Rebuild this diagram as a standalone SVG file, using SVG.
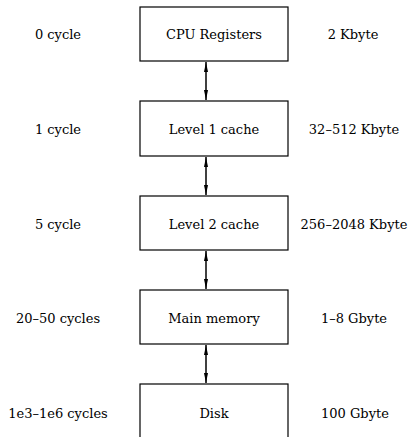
<svg xmlns="http://www.w3.org/2000/svg" width="411" height="437" viewBox="0 0 411 437">
<defs>
<style>
.box{fill:#fff;stroke:#000;stroke-width:1.2}
.t{font-family:"DejaVu Serif","Liberation Serif",serif;font-size:13px;fill:#000;text-anchor:middle}
.c{stroke:#000;stroke-width:1.5;fill:none}
</style>
<marker id="ah" viewBox="0 0 10 4" refX="10" refY="2" markerWidth="10" markerHeight="4" markerUnits="userSpaceOnUse" orient="auto-start-reverse">
<path d="M0,0 L10,2 L0,4 Z" fill="#000"/>
</marker>
</defs>
<rect width="411" height="437" fill="#fff"/>
<g id="connectors">
<line class="c" x1="206" y1="62" x2="206" y2="100" marker-start="url(#ah)" marker-end="url(#ah)"/>
<line class="c" x1="206" y1="157" x2="206" y2="195" marker-start="url(#ah)" marker-end="url(#ah)"/>
<line class="c" x1="206" y1="251" x2="206" y2="289" marker-start="url(#ah)" marker-end="url(#ah)"/>
<line class="c" x1="206" y1="345" x2="206" y2="383" marker-start="url(#ah)" marker-end="url(#ah)"/>
</g>
<g id="node-cpu">
<rect class="box" x="140" y="7" width="148" height="54"/>
<text class="t" x="214" y="39">CPU Registers</text>
</g>
<g id="node-l1">
<rect class="box" x="140" y="101" width="148" height="55"/>
<text class="t" x="214" y="134">Level 1 cache</text>
</g>
<g id="node-l2">
<rect class="box" x="140" y="196" width="148" height="54"/>
<text class="t" x="214" y="229">Level 2 cache</text>
</g>
<g id="node-mem">
<rect class="box" x="140" y="290" width="148" height="54"/>
<text class="t" x="214" y="323">Main memory</text>
</g>
<g id="node-disk">
<rect class="box" x="140" y="384" width="148" height="60"/>
<text class="t" x="214" y="418">Disk</text>
</g>
<g id="labels-latency">
<text class="t" x="58" y="39">0 cycle</text>
<text class="t" x="58" y="134">1 cycle</text>
<text class="t" x="58" y="229">5 cycle</text>
<text class="t" x="58" y="323">20–50 cycles</text>
<text class="t" x="58" y="418">1e3–1e6 cycles</text>
</g>
<g id="labels-size">
<text class="t" x="353" y="39">2 Kbyte</text>
<text class="t" x="354" y="134">32–512 Kbyte</text>
<text class="t" x="354" y="229">256–2048 Kbyte</text>
<text class="t" x="354" y="323">1–8 Gbyte</text>
<text class="t" x="355" y="418">100 Gbyte</text>
</g>
</svg>
